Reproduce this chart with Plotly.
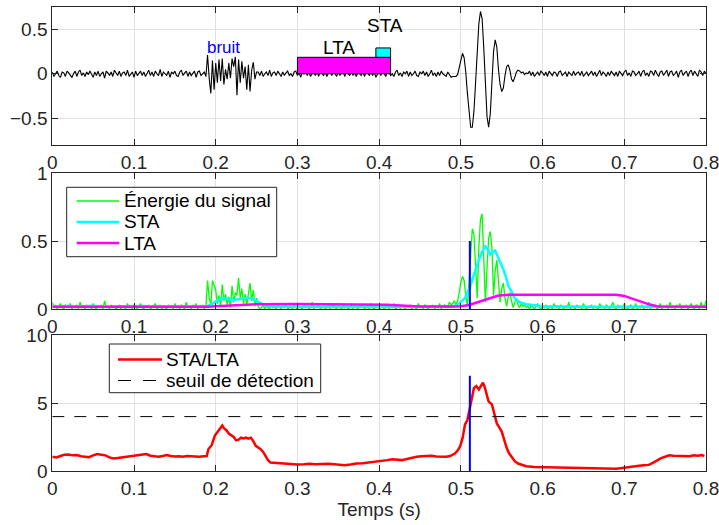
import numpy as np
import plotly.graph_objects as go

# ---------------- data ----------------
SAMPLE_STEP = 0.002  # s, sample spacing of the signal / energy traces

# seismic signal, in hundredths, segment by segment
signal_noise_a = [2, -3, 0, 3, -2, -4, 2, 1, -3, 3, 1, -2, -4, 0, 3, -3, 2, 4, -2, 1,
                  -3, 2, -1, 3, 0, -4, 2, -2, 3, -3, 0, 2, -5, 3, 1, -2, 2, -3, 4, 0,
                  -2, 3, -3, 1, 2, -2, 4, -3, 0, 2, -4, 3, -2, 1, 3, -2, 2, -3, 0, 4,
                  -2, 2, -3, 3, 0, -2, 5, -3, 2, 0, -2, 3, -4, 2, 0, 3, -2, -3, 2, 4,
                  -2, 1, 3, -3, 2, -2, 0, 3, -4, 2, 3, -2, 0, 2, -3]
signal_burst = [21, -5, -22, 15, -18, 12, -10, 16, -8, 17, -12, 5, -6, 12, -5, 17, 8, 19, -24, 16,
                -10, 14, -5, 8, -18, 10, -20, 4, 13, -6, 2]
signal_noise_b = [2, -2, 3, -3, 0, 2, -2, 4, -3, 1, 2, -2, 3, 0, -3, 2, -2, 1, 3, -2,
                  0, -3, 2, 3, -2, 1, -4, 2, 0, 3, -2, 2, -3, 0, 2, -2, 3, -3, 4, 0,
                  -2, 2, -3, 1, 3, -2, 2, 0, -3, 3, -2, 1, 2, -3, 3, 0, -2, 4, -2, 1,
                  -3, 2, 0, -2, 3, -3, 2, 1, -2, 3, -2, 2, -4, 0, 3, -2, 2, 1, -3, 2,
                  3, -2, 0, -3, 2, 4, -2, 1, -3, 2, 0, 3, -3, 2, -2, 0, 3, -2, -3, 2,
                  0, 3, -2, 2, -3, 0, 4, -2, 1, -3, 2, -2, 3, 0, -2, -3, 2, -2, -4, -3, -3]
signal_event = [-3, -1, 8, 18, 23, 18, 2, -22, -46, -60, -60, -42, -10, 25, 56, 70, 62, 30, -10, -48,
                -60, -45, -10, 25, 38, 30, 5, -12, -20, -16, -2, 8, 10, 4, -6, -9, -4, 2, 4, 3,
                1, 2, -1, 1]
signal_noise_c = [0, 3, -2, 2, -3, 0, 2, -2, 3, 1, -2, 2, -3, 3, 0, -2, 2, 1, -3, 2,
                  3, -2, 0, 2, -3, 2, 0, -2, 3, -2, 1, 2, -2, 3, -3, 0, 2, -2, 1, 3,
                  -2, 2, -3, 0, 4, -2, 2, 0, -3, 2, -2, 3, 1, -2, 2, -3, 3, 0, -2, 2,
                  4, -2, 1, -3, 3, 2, -2, 0, 3, -3, 2, 4, -2, 1, -3, 3, 2, -2, 4, 0,
                  -3, 2, 3, -2, 1, 4, -3, 2, 3, -2, 0, 3, -4, 2, 4, -2, 1, 3, -3, 2,
                  4, -2, 3, 0, -3, 4, 2, -2, 3, 0]

# signal energy, in hundredths, same segments
energy_noise_a = [5, 1, 3, 0, 2, 4, 1, 0, 3, 2, 1, 4, 0, 2, 1, 3, 0, 5, 1, 2,
                  0, 3, 1, 2, 0, 4, 1, 0, 2, 1, 3, 0, 6, 1, 2, 0, 3, 1, 2, 0,
                  1, 3, 0, 2, 1, 0, 4, 1, 2, 0, 3, 1, 0, 2, 4, 1, 0, 2, 1, 3,
                  0, 1, 2, 4, 0, 1, 3, 0, 2, 1, 0, 3, 1, 2, 0, 4, 1, 2, 0, 3,
                  1, 0, 5, 1, 2, 0, 3, 1, 4, 0, 2, 1, 3, 0, 2]
energy_burst = [21, 8, 3, 21, 17, 14, 4, 10, 2, 18, 6, 11, 3, 9, 1, 17, 5, 12, 10, 23,
                8, 15, 4, 11, 3, 13, 19, 6, 14, 2, 8]
energy_noise_b = [2, 0, 1, 3, 0, 2, 1, 0, 4, 1, 2, 0, 3, 1, 0, 2, 1, 3, 0, 1,
                  2, 0, 4, 1, 0, 2, 1, 0, 3, 1, 2, 0, 1, 5, 0, 2, 1, 3, 0, 1,
                  2, 0, 1, 3, 0, 2, 4, 1, 0, 2, 1, 0, 3, 1, 2, 0, 1, 4, 0, 2,
                  1, 0, 3, 1, 2, 0, 1, 2, 0, 4, 1, 0, 2, 3, 0, 1, 2, 0, 1, 3,
                  0, 2, 1, 4, 0, 1, 2, 0, 3, 1, 0, 2, 1, 3, 0, 2, 1, 0, 4, 1,
                  2, 0, 3, 1, 0, 2, 1, 3, 0, 2, 1, 4, 0, 2, 3, 1, 2, 5, 3, 4, 6]
energy_event = [3, 6, 12, 20, 24, 21, 10, 2, 20, 42, 59, 55, 30, 8, 45, 66, 70, 40, 5, 30,
                52, 57, 45, 10, 28, 36, 22, 5, 15, 19, 8, 2, 9, 12, 6, 1, 5, 8, 3, 1,
                4, 2, 3, 1]
energy_noise_c = [2, 0, 3, 1, 0, 2, 4, 1, 0, 2, 1, 3, 0, 1, 2, 0, 4, 1, 2, 0,
                  3, 1, 0, 2, 1, 5, 0, 2, 1, 0, 3, 1, 2, 0, 4, 1, 0, 2, 1, 3,
                  0, 2, 1, 0, 4, 1, 2, 0, 3, 1, 0, 2, 5, 1, 0, 3, 1, 2, 0, 4,
                  1, 0, 2, 3, 0, 1, 4, 0, 2, 1, 3, 0, 2, 1, 5, 0, 2, 1, 3, 0,
                  1, 4, 0, 2, 1, 3, 0, 5, 1, 2, 0, 3, 1, 4, 0, 2, 1, 3, 0, 2,
                  4, 1, 0, 3, 2, 0, 5, 1, 2, 6]

# short-term average (time, value)
sta_points = [(0.00, 0.020), (0.01, 0.018), (0.02, 0.022), (0.03, 0.017), (0.04, 0.020),
              (0.05, 0.023), (0.06, 0.019), (0.07, 0.015), (0.08, 0.018), (0.09, 0.020),
              (0.10, 0.019), (0.11, 0.022), (0.12, 0.018), (0.13, 0.020), (0.14, 0.019),
              (0.15, 0.018), (0.16, 0.020), (0.17, 0.019), (0.18, 0.018), (0.19, 0.022),
              (0.195, 0.035), (0.200, 0.055), (0.205, 0.072), (0.210, 0.080), (0.215, 0.072),
              (0.220, 0.066), (0.225, 0.070), (0.230, 0.072), (0.235, 0.078), (0.240, 0.082),
              (0.245, 0.075), (0.250, 0.058), (0.255, 0.040), (0.260, 0.028), (0.27, 0.020),
              (0.28, 0.017), (0.29, 0.015), (0.30, 0.016), (0.31, 0.018), (0.32, 0.015),
              (0.33, 0.017), (0.34, 0.016), (0.35, 0.015), (0.36, 0.017), (0.37, 0.016),
              (0.38, 0.018), (0.39, 0.017), (0.40, 0.016), (0.41, 0.018), (0.42, 0.017),
              (0.43, 0.016), (0.44, 0.018), (0.45, 0.017), (0.46, 0.016), (0.47, 0.018),
              (0.48, 0.017), (0.49, 0.019), (0.495, 0.025), (0.500, 0.050), (0.505, 0.080),
              (0.511, 0.160), (0.515, 0.240), (0.518, 0.290), (0.522, 0.360), (0.526, 0.420),
              (0.530, 0.460), (0.533, 0.440), (0.536, 0.400), (0.539, 0.420), (0.542, 0.430),
              (0.545, 0.390), (0.548, 0.340), (0.552, 0.290), (0.555, 0.240), (0.558, 0.170),
              (0.562, 0.130), (0.566, 0.080), (0.572, 0.050), (0.580, 0.035), (0.590, 0.027),
              (0.60, 0.020), (0.62, 0.018), (0.64, 0.016), (0.66, 0.017), (0.68, 0.015),
              (0.70, 0.016), (0.72, 0.015), (0.74, 0.014), (0.76, 0.016), (0.78, 0.015),
              (0.80, 0.016)]

# long-term average (time, value)
lta_points = [(0.00, 0.017), (0.05, 0.016), (0.10, 0.017), (0.15, 0.016), (0.19, 0.017),
              (0.20, 0.020), (0.21, 0.024), (0.22, 0.027), (0.23, 0.030), (0.24, 0.033),
              (0.25, 0.035), (0.30, 0.036), (0.35, 0.035), (0.40, 0.034), (0.41, 0.032),
              (0.42, 0.028), (0.43, 0.024), (0.44, 0.021), (0.45, 0.019), (0.49, 0.018),
              (0.50, 0.020), (0.51, 0.030), (0.515, 0.040), (0.52, 0.050), (0.525, 0.062),
              (0.53, 0.072), (0.535, 0.082), (0.54, 0.090), (0.545, 0.097), (0.55, 0.101),
              (0.56, 0.104), (0.60, 0.105), (0.65, 0.105), (0.69, 0.104), (0.70, 0.096),
              (0.705, 0.087), (0.71, 0.077), (0.715, 0.066), (0.72, 0.055), (0.725, 0.045),
              (0.73, 0.035), (0.735, 0.027), (0.74, 0.021), (0.745, 0.018), (0.80, 0.017)]

# STA/LTA ratio (time, value)
ratio_points = [(0.000, 1.05), (0.005, 1.00), (0.010, 1.10), (0.015, 1.20), (0.020, 1.22),
                (0.025, 1.15), (0.030, 1.17), (0.035, 1.08), (0.040, 1.05), (0.045, 1.02),
                (0.050, 1.15), (0.055, 1.25), (0.060, 1.20), (0.065, 1.15), (0.070, 1.00),
                (0.075, 0.92), (0.080, 0.95), (0.085, 1.00), (0.090, 1.03), (0.095, 1.08),
                (0.100, 1.10), (0.105, 1.15), (0.110, 1.20), (0.115, 1.25), (0.120, 1.12),
                (0.125, 1.08), (0.130, 1.05), (0.135, 1.10), (0.140, 1.18), (0.145, 1.10),
                (0.150, 1.06), (0.155, 1.08), (0.160, 1.05), (0.165, 1.10), (0.170, 1.07),
                (0.175, 1.08), (0.180, 1.05), (0.185, 1.08), (0.189, 1.10), (0.191, 1.60),
                (0.195, 1.90), (0.199, 2.60), (0.203, 2.95), (0.206, 3.20), (0.208, 3.35),
                (0.210, 3.15), (0.213, 3.00), (0.216, 2.75), (0.219, 2.60), (0.222, 2.50),
                (0.225, 2.25), (0.228, 2.30), (0.231, 2.45), (0.234, 2.40), (0.237, 2.45),
                (0.240, 2.38), (0.243, 2.45), (0.246, 2.20), (0.249, 1.85), (0.252, 1.75),
                (0.255, 1.60), (0.258, 1.40), (0.261, 1.10), (0.264, 0.80), (0.267, 0.62),
                (0.272, 0.60), (0.278, 0.56), (0.285, 0.55), (0.292, 0.50), (0.300, 0.48),
                (0.308, 0.50), (0.315, 0.53), (0.322, 0.50), (0.330, 0.52), (0.338, 0.54),
                (0.345, 0.50), (0.352, 0.46), (0.358, 0.43), (0.365, 0.48), (0.372, 0.55),
                (0.380, 0.57), (0.388, 0.62), (0.395, 0.66), (0.400, 0.70), (0.405, 0.75),
                (0.410, 0.80), (0.416, 0.86), (0.422, 0.85), (0.428, 0.80), (0.434, 0.88),
                (0.440, 0.98), (0.446, 1.05), (0.452, 1.08), (0.458, 1.10), (0.464, 1.12),
                (0.470, 1.07), (0.476, 1.05), (0.482, 1.05), (0.487, 1.10), (0.493, 1.30),
                (0.496, 1.50), (0.499, 1.80), (0.502, 2.40), (0.505, 3.40), (0.508, 3.75),
                (0.510, 4.30), (0.513, 5.35), (0.516, 6.10), (0.519, 6.25), (0.522, 6.00),
                (0.525, 6.30), (0.527, 6.50), (0.529, 6.20), (0.532, 5.50), (0.534, 5.10),
                (0.538, 4.90), (0.541, 4.20), (0.544, 3.50), (0.547, 3.20), (0.550, 2.90),
                (0.553, 2.30), (0.556, 1.70), (0.559, 1.30), (0.562, 1.05), (0.566, 0.72),
                (0.570, 0.55), (0.575, 0.42), (0.580, 0.35), (0.590, 0.30), (0.600, 0.29),
                (0.610, 0.28), (0.620, 0.26), (0.630, 0.24), (0.640, 0.23), (0.650, 0.21),
                (0.660, 0.20), (0.670, 0.18), (0.680, 0.16), (0.690, 0.17), (0.700, 0.24),
                (0.706, 0.30), (0.712, 0.36), (0.718, 0.38), (0.724, 0.42), (0.730, 0.45),
                (0.735, 0.60), (0.740, 0.78), (0.745, 0.95), (0.750, 1.05), (0.755, 1.15),
                (0.760, 1.12), (0.765, 1.10), (0.770, 1.08), (0.775, 1.05), (0.780, 1.08),
                (0.785, 1.15), (0.790, 1.12), (0.795, 1.18), (0.798, 1.10)]

threshold = 4.0
detect_time = 0.511
detect_height_energy = 0.5
detect_height_ratio = 7.0
lta_window = (0.300, 0.414, 0.0, 0.185)   # t0, t1, y0, y1
sta_window = (0.396, 0.414, 0.185, 0.29)

x_ticks = [0, 0.1, 0.2, 0.3, 0.4, 0.5, 0.6, 0.7, 0.8]
x_ticks_mid = [0, 0.1, 0.2, 0.3, 0.4, 0.5, 0.6, 0.7]

# ---------------- assemble ----------------
signal_centi = signal_noise_a + signal_burst + signal_noise_b + signal_event + signal_noise_c
energy_centi = energy_noise_a + energy_burst + energy_noise_b + energy_event + energy_noise_c
assert len(signal_centi) == len(energy_centi) == 401, (len(signal_centi), len(energy_centi))
time = np.round(np.arange(len(signal_centi)) * SAMPLE_STEP, 4)
signal = np.array(signal_centi) / 100.0
energy = np.array(energy_centi) / 100.0
sta_t, sta_v = zip(*sta_points)
lta_t, lta_v = zip(*lta_points)
ratio_t, ratio_v = zip(*ratio_points)

FONT = "Liberation Sans, Arial, Helvetica, sans-serif"
AX = "#262626"
GREEN, CYAN, MAGENTA, RED, BLUE = "#00ff00", "#00ffff", "#ff00ff", "#ff0000", "#0000ff"
W, H = 719.0, 525.0

fig = go.Figure()
# top: signal
fig.add_trace(go.Scatter(x=time, y=signal, mode="lines", line=dict(color="black", width=1.1),
                         showlegend=False, xaxis="x", yaxis="y"))
# middle
fig.add_trace(go.Scatter(x=time, y=energy, mode="lines", name="Énergie du signal",
                         line=dict(color=GREEN, width=1.3), xaxis="x2", yaxis="y2", showlegend=False))
fig.add_trace(go.Scatter(x=sta_t, y=sta_v, mode="lines", name="STA",
                         line=dict(color=CYAN, width=2.5), xaxis="x2", yaxis="y2", showlegend=False))
fig.add_trace(go.Scatter(x=lta_t, y=lta_v, mode="lines", name="LTA",
                         line=dict(color=MAGENTA, width=2.5), xaxis="x2", yaxis="y2", showlegend=False))
fig.add_trace(go.Scatter(x=[detect_time, detect_time], y=[0, detect_height_energy], mode="lines",
                         line=dict(color=BLUE, width=2), showlegend=False, xaxis="x2", yaxis="y2"))
# bottom
fig.add_trace(go.Scatter(x=ratio_t, y=ratio_v, mode="lines", name="STA/LTA",
                         line=dict(color=RED, width=2.5), xaxis="x3", yaxis="y3", showlegend=False))
fig.add_trace(go.Scatter(x=[0, 0.8], y=[threshold, threshold], mode="lines", name="seuil de détection",
                         line=dict(color="black", width=1, dash="12px,10px"), xaxis="x3", yaxis="y3",
                         showlegend=False))
fig.add_trace(go.Scatter(x=[detect_time, detect_time], y=[0, detect_height_ratio], mode="lines",
                         line=dict(color=BLUE, width=2), showlegend=False, xaxis="x3", yaxis="y3"))

# analysis windows in the top panel
for (t0, t1, y0, y1), col in [(lta_window, MAGENTA), (sta_window, CYAN)]:
    fig.add_shape(type="rect", xref="x", yref="y", x0=t0, x1=t1, y0=y0, y1=y1,
                  fillcolor=col, line=dict(color="black", width=1), layer="above")

fig.add_annotation(x=0.2093, y=0.30, xref="x", yref="y", text="bruit", showarrow=False,
                   font=dict(family=FONT, size=17, color=BLUE))
fig.add_annotation(x=0.3507, y=0.29, xref="x", yref="y", text="LTA", showarrow=False,
                   font=dict(family=FONT, size=19, color="black"))
fig.add_annotation(x=0.4077, y=0.54, xref="x", yref="y", text="STA", showarrow=False,
                   font=dict(family=FONT, size=19, color="black"))


# legends drawn as boxed keys (pixel layout of the reference)
def draw_legend(box, sample_x, text_x, row_y0, row_gap, entries):
    x0, y0, x1, y1 = box
    fig.add_shape(type="rect", xref="paper", yref="paper", x0=x0 / W, x1=x1 / W,
                  y0=1 - y1 / H, y1=1 - y0 / H, fillcolor="white",
                  line=dict(color=AX, width=1), layer="above")
    for i, (label, col, lw, dash) in enumerate(entries):
        yy = 1 - (row_y0 + i * row_gap) / H
        fig.add_shape(type="line", xref="paper", yref="paper", x0=sample_x[0] / W, x1=sample_x[1] / W,
                      y0=yy, y1=yy, line=dict(color=col, width=lw, dash=dash), layer="above")
        fig.add_annotation(x=text_x / W, y=yy, xref="paper", yref="paper", text=label,
                           showarrow=False, xanchor="left", yanchor="middle",
                           font=dict(family=FONT, size=19, color="black"))


draw_legend((66.7, 187.3, 276.7, 256.7), (76.7, 119.3), 122, 201, 21,
            [("Énergie du signal", GREEN, 1.3, "solid"), ("STA", CYAN, 2.5, "solid"),
             ("LTA", MAGENTA, 2.5, "solid")])
draw_legend((109.3, 344, 320.7, 392.7), (118, 162), 164, 359.5, 21,
            [("STA/LTA", RED, 2.5, "solid"), ("seuil de détection", "black", 1, "13px,12px")])


def axstyle(**kw):
    d = dict(showline=True, linecolor=AX, linewidth=1, mirror="ticks", ticks="inside", ticklen=6,
             tickcolor=AX, tickwidth=1, showgrid=True, gridcolor="#e1e1e1", gridwidth=1,
             zeroline=False, automargin=False, ticklabeloverflow="allow",
             tickfont=dict(family=FONT, size=19, color=AX))
    d.update(kw)
    return d


XD = [52.3 / W, 706 / W]
fig.update_layout(
    width=719, height=525,
    margin=dict(l=0, r=0, t=0, b=0),
    paper_bgcolor="white", plot_bgcolor="white",
    font=dict(family=FONT, color="black"),
    showlegend=False,
    xaxis=axstyle(domain=XD, anchor="y", range=[0, 0.8], tickvals=x_ticks),
    yaxis=axstyle(domain=[1 - 145 / H, 1 - 7 / H], anchor="x", range=[-0.8, 0.75],
                  tickvals=[-0.5, 0, 0.5]),
    xaxis2=axstyle(domain=XD, anchor="y2", range=[0, 0.8], tickvals=x_ticks_mid),
    yaxis2=axstyle(domain=[1 - 309 / H, 1 - 173 / H], anchor="x2", range=[0, 1],
                   tickvals=[0, 0.5, 1]),
    xaxis3=axstyle(domain=XD, anchor="y3", range=[0, 0.8], tickvals=x_ticks,
                   title=dict(text="Temps (s)", font=dict(family=FONT, size=19, color=AX), standoff=4)),
    yaxis3=axstyle(domain=[1 - 471 / H, 1 - 335 / H], anchor="x3", range=[0, 10],
                   tickvals=[0, 5, 10]),
)

fig.write_html("out.html")
